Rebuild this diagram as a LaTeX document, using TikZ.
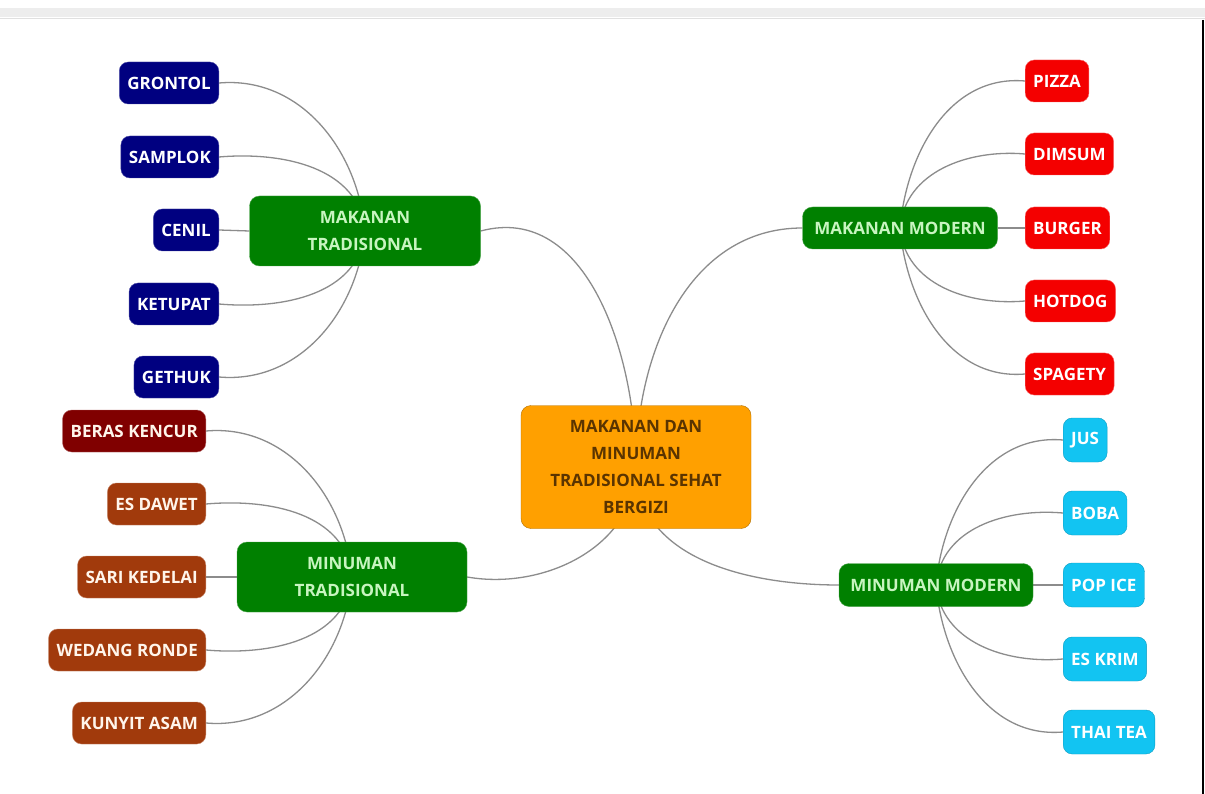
\documentclass[tikz,border=0pt]{standalone}
\usepackage{fontspec}
\setmainfont{Open Sans}
\usepackage{xcolor}
\usetikzlibrary{positioning, backgrounds}

\definecolor{navyleaf}{HTML}{000080}
\definecolor{branchgreen}{HTML}{008000}
\definecolor{branchtext}{HTML}{C8F5C0}
\definecolor{redleaf}{HTML}{F40000}
\definecolor{cyanleaf}{HTML}{12C4F2}
\definecolor{brownleaf}{HTML}{A13A0C}
\definecolor{darkredleaf}{HTML}{800000}
\definecolor{coreorange}{HTML}{FFA000}
\definecolor{coretext}{HTML}{5A3400}
\definecolor{wire}{HTML}{8C8C8C}

\tikzset{
    leaf/.style={rectangle, rounded corners=9pt, minimum height=42pt, inner xsep=8pt, align=center, text=white, font=\fontsize{17}{20}\selectfont\bfseries},
    branch/.style={rectangle, rounded corners=10pt, align=center, fill=branchgreen, draw=branchgreen!70!white, text=branchtext, font=\fontsize{17}{27}\selectfont\bfseries},
    wireline/.style={draw=wire, line width=1.3pt}
}

\begin{document}
\begin{tikzpicture}[
        x=1pt, y=-1pt,
        navy/.style={leaf, fill=navyleaf, draw=navyleaf!70!white},
        red/.style={leaf, fill=redleaf, draw=redleaf!60!white},
        cyan/.style={leaf, fill=cyanleaf, draw=cyanleaf!80!black, minimum height=44pt},
        brown/.style={leaf, fill=brownleaf, draw=brownleaf!60!white, text=white!92!orange},
        darkred/.style={leaf, fill=darkredleaf, draw=darkredleaf!60!white, text=white!92!orange}
    ]
        \useasboundingbox (0,0) rectangle (1205,794);

        % --- Centre ---
        \node (core) [rectangle, rounded corners=10pt, minimum width=230pt, minimum height=123pt, align=center, fill=coreorange, draw=coreorange!70!black, text=coretext, font=\fontsize{17}{27}\selectfont\bfseries] at (636,467) {MAKANAN DAN\\MINUMAN\\TRADISIONAL SEHAT\\BERGIZI};

        % --- Branches ---
        \node (makan_trad) [branch, minimum width=231pt, minimum height=70pt] at (365,231) {MAKANAN\\TRADISIONAL};
        \node (minum_trad) [branch, minimum width=230pt, minimum height=70pt] at (352,577) {MINUMAN\\TRADISIONAL};
        \node (makan_mod) [branch, minimum width=195pt, minimum height=42pt] at (900,228) {MAKANAN MODERN};
        \node (minum_mod) [branch, minimum width=194pt, minimum height=43pt] at (936,585) {MINUMAN MODERN};

        % --- Makanan tradisional ---
        \node (grontol) [navy, anchor=east] at (219,83) {GRONTOL};
        \node (samplok) [navy, anchor=east] at (219,157) {SAMPLOK};
        \node (cenil) [navy, anchor=east] at (219,230) {CENIL};
        \node (ketupat) [navy, anchor=east] at (219,304) {KETUPAT};
        \node (gethuk) [navy, anchor=east] at (219,377) {GETHUK};

        % --- Minuman tradisional ---
        \node (beras) [darkred, anchor=east] at (206,431) {BERAS KENCUR};
        \node (dawet) [brown, anchor=east] at (206,504) {ES DAWET};
        \node (kedelai) [brown, anchor=east] at (206,577) {SARI KEDELAI};
        \node (ronde) [brown, anchor=east] at (206,650) {WEDANG RONDE};
        \node (kunyit) [brown, anchor=east] at (206,723) {KUNYIT ASAM};

        % --- Makanan modern ---
        \node (pizza) [red, anchor=west] at (1025,81) {PIZZA};
        \node (dimsum) [red, anchor=west] at (1025,154) {DIMSUM};
        \node (burger) [red, anchor=west] at (1025,228) {BURGER};
        \node (hotdog) [red, anchor=west] at (1025,301) {HOTDOG};
        \node (spagety) [red, anchor=west] at (1025,374) {SPAGETY};

        % --- Minuman modern ---
        \node (jus) [cyan, anchor=west] at (1063,440) {JUS};
        \node (boba) [cyan, anchor=west] at (1063,513) {BOBA};
        \node (popice) [cyan, anchor=west] at (1063,585) {POP ICE};
        \node (eskrim) [cyan, anchor=west] at (1063,659) {ES KRIM};
        \node (thaitea) [cyan, anchor=west] at (1063,732) {THAI TEA};

        % --- Connectors (behind the boxes) ---
        \begin{scope}[on background layer]
            \fill[white] (0,0) rectangle (1205,794);
            \fill[black!7] (0,8) rectangle (1205,17);
            \draw[black!12, line width=1pt] (0,19) -- (1205,19);
            \draw[black, line width=1.5pt] (1203,20) -- (1203,794);

            \draw[wireline] (makan_trad.east) to[out=15, in=90] (core.center);
            \draw[wireline] (makan_mod.west) to[out=180, in=90] (core.center);
            \draw[wireline] (minum_trad.east) to[out=-10, in=-90] (core.center);
            \draw[wireline] (minum_mod.west) to[out=180, in=-90] (core.center);

            \draw[wireline] (grontol.east) to[out=5, in=95] (makan_trad.center);
            \draw[wireline] (samplok.east) to[out=5, in=95] (makan_trad.center);
            \draw[wireline] (cenil.east) -- (makan_trad.west);
            \draw[wireline] (ketupat.east) to[out=-5, in=-95] (makan_trad.center);
            \draw[wireline] (gethuk.east) to[out=-5, in=-95] (makan_trad.center);

            \draw[wireline] (beras.east) to[out=5, in=95] (minum_trad.center);
            \draw[wireline] (dawet.east) to[out=5, in=95] (minum_trad.center);
            \draw[wireline] (kedelai.east) -- (minum_trad.west);
            \draw[wireline] (ronde.east) to[out=-5, in=-95] (minum_trad.center);
            \draw[wireline] (kunyit.east) to[out=-5, in=-95] (minum_trad.center);

            \draw[wireline] (pizza.west) to[out=175, in=85] (makan_mod.center);
            \draw[wireline] (dimsum.west) to[out=175, in=85] (makan_mod.center);
            \draw[wireline] (burger.west) -- (makan_mod.east);
            \draw[wireline] (hotdog.west) to[out=185, in=-85] (makan_mod.center);
            \draw[wireline] (spagety.west) to[out=185, in=-85] (makan_mod.center);

            \draw[wireline] (jus.west) to[out=175, in=85] (minum_mod.center);
            \draw[wireline] (boba.west) to[out=175, in=85] (minum_mod.center);
            \draw[wireline] (popice.west) -- (minum_mod.east);
            \draw[wireline] (eskrim.west) to[out=185, in=-85] (minum_mod.center);
            \draw[wireline] (thaitea.west) to[out=185, in=-85] (minum_mod.center);
        \end{scope}

    \end{tikzpicture}
\end{document}
